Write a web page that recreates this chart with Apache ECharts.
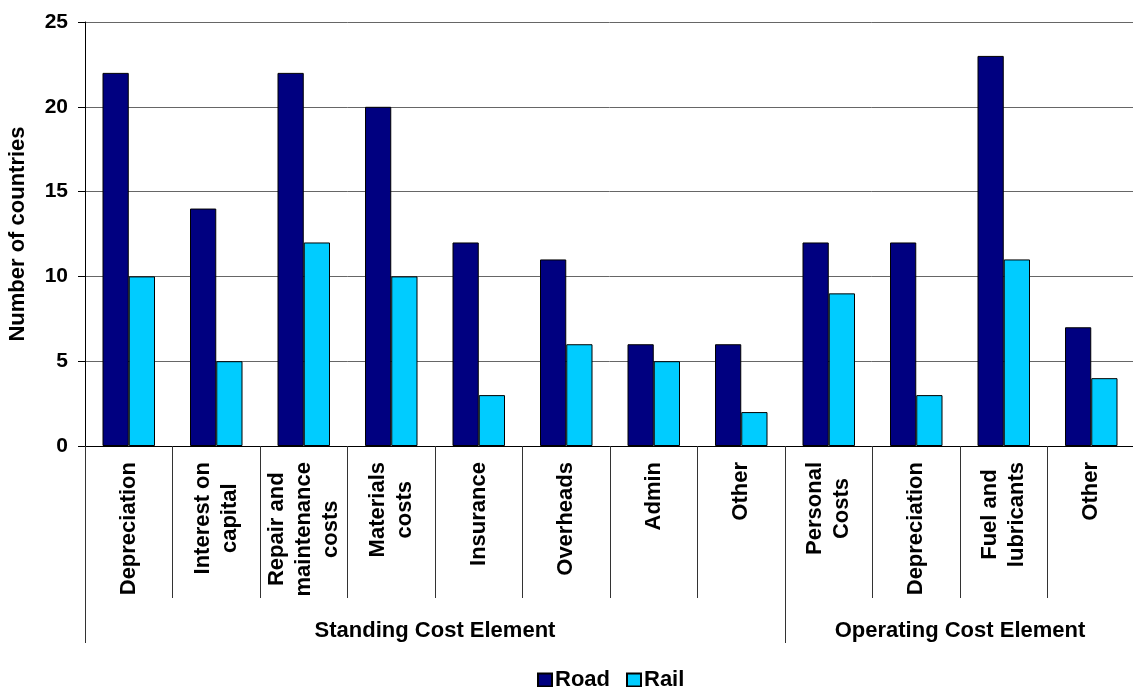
<!DOCTYPE html>
<html>
<head>
<meta charset="utf-8">
<script src="https://cdn.jsdelivr.net/npm/echarts@6/dist/echarts.min.js"></script>
<style>
  html, body { margin: 0; padding: 0; background: #fff; }
  #chart { width: 1133px; height: 687px; }
</style>
</head>
<body>
<div id="chart"></div>
<script>
// Cost elements counted per country, split by mode of transport
const categories = [
  'Depreciation', 'Interest on\ncapital', 'Repair and\nmaintenance\ncosts', 'Materials\ncosts',
  'Insurance', 'Overheads', 'Admin', 'Other',
  'Personal\nCosts', 'Depreciation', 'Fuel and\nlubricants', 'Other'
];
const roadValues = [22, 14, 22, 20, 12, 11, 6, 6, 12, 12, 23, 7];
const railValues = [10, 5, 12, 10, 3, 6, 5, 2, 9, 3, 11, 4];
const yTicks = [0, 5, 10, 15, 20, 25];

// Category groups and how many categories each one spans
const groupNames = ['Standing Cost Element', 'Operating Cost Element'];
const groupSizes = [8, 4];

// group boundaries and centres on a 0..N value scale
const groupEdges = [0];
groupSizes.forEach(s => groupEdges.push(groupEdges[groupEdges.length - 1] + s));
const groupCentres = groupSizes.map((s, i) => groupEdges[i] + s / 2);

const FONT = 'Liberation Sans, Arial, sans-serif';

const chart = echarts.init(document.getElementById('chart'), null, { renderer: 'canvas' });

chart.setOption({
  animation: false,
  backgroundColor: '#ffffff',
  textStyle: { fontFamily: FONT },
  grid: { left: 85, top: 22, width: 1050, bottom: 241, containLabel: false, outerBoundsMode: 'none' },
  legend: {
    data: ['Road', 'Rail'],
    left: 532,
    top: 664,
    itemWidth: 14,
    itemHeight: 13,
    itemGap: 16,
    icon: 'rect',
    textStyle: { fontFamily: FONT, fontSize: 22, fontWeight: 'bold', color: '#000', padding: [0, 0, 0, -2] }
  },
  xAxis: [
    {
      type: 'category',
      data: categories.map((c, i) => String(i)),
      boundaryGap: true,
      axisLine: { show: true, lineStyle: { color: '#000', width: 1 } },
      axisTick: { show: true, interval: 0, length: 152, lineStyle: { color: '#333', width: 1 } },
      axisLabel: {
        interval: 0,
        rotate: 90,
        margin: 16,
        formatter: (v) => categories[+v].split('\n').map(s => '{c|' + s + '}').join('\n'),
        rich: {
          c: { fontFamily: FONT, fontSize: 22, fontWeight: 'bold', color: '#000', align: 'center', lineHeight: 27 }
        }
      },
      splitLine: { show: false }
    },
    {
      type: 'value',
      position: 'bottom',
      min: 0,
      max: categories.length,
      axisLine: { show: false },
      axisTick: { show: true, customValues: groupEdges, length: 197, lineStyle: { color: '#333', width: 1 } },
      axisLabel: {
        show: true,
        customValues: groupCentres,
        margin: 174,
        fontFamily: FONT,
        fontSize: 22,
        fontWeight: 'bold',
        color: '#000',
        formatter: (v) => {
          const i = groupCentres.indexOf(v);
          return i >= 0 ? groupNames[i] : '';
        }
      },
      splitLine: { show: false }
    }
  ],
  yAxis: {
    type: 'value',
    min: yTicks[0],
    max: yTicks[yTicks.length - 1],
    interval: yTicks[1] - yTicks[0],
    name: 'Number of countries',
    nameLocation: 'middle',
    nameGap: 56,
    nameRotate: 90,
    nameTextStyle: { fontFamily: FONT, fontSize: 22, fontWeight: 'bold', color: '#000' },
    axisLine: { show: true, lineStyle: { color: '#000', width: 1 } },
    axisTick: { show: true, length: 7, lineStyle: { color: '#000' } },
    axisLabel: { margin: 17, fontFamily: FONT, fontSize: 21, fontWeight: 'bold', color: '#000' },
    splitLine: { show: true, lineStyle: { color: '#666', width: 1 } }
  },
  series: [
    {
      name: 'Road',
      type: 'bar',
      xAxisIndex: 0,
      data: roadValues,
      barGap: '0%',
      barCategoryGap: '40%',
      itemStyle: { color: '#000080', borderColor: '#000', borderWidth: 1 }
    },
    {
      name: 'Rail',
      type: 'bar',
      xAxisIndex: 0,
      data: railValues,
      barGap: '0%',
      barCategoryGap: '40%',
      itemStyle: { color: '#00ccff', borderColor: '#000', borderWidth: 1 }
    }
  ]
});
</script>
</body>
</html>
